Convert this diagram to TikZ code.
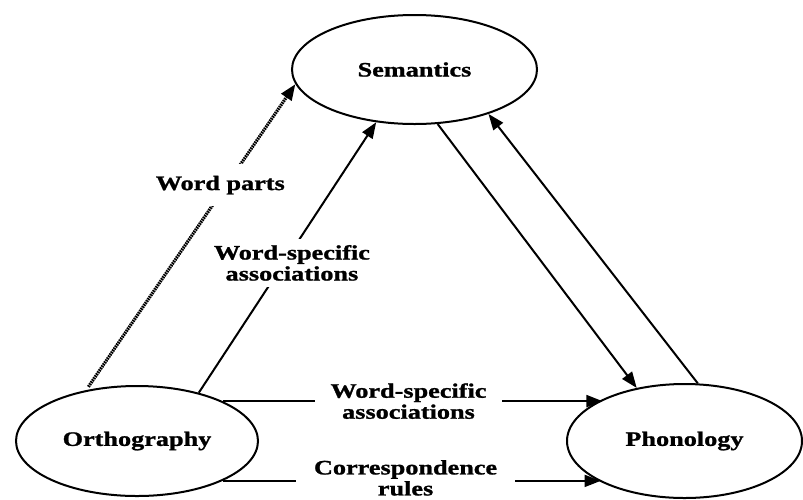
\documentclass[tikz,border=0pt]{standalone}
\usepackage{fontspec}
\newfontfamily\lblfont[FakeStretch=1.28,FakeBold=1.2]{Liberation Serif}
\usetikzlibrary{arrows.meta,shapes.geometric}

\tikzset{
  txt/.style={font=\lblfont\bfseries\fontsize{20.5}{21}\selectfont},
  state/.style={txt, draw, ellipse, line width=2pt, inner sep=0pt},
  link/.style={line width=2pt, -{Triangle[length=16pt,width=12pt]}},
  partlink/.style={link, line width=3.2pt, dash pattern=on 1.6pt off 0.8pt},
  tag/.style={txt, fill=white, align=center, inner xsep=2pt, inner ysep=4pt}
}

\begin{document}
\begin{tikzpicture}[x=1pt,y=1pt]
  \useasboundingbox (0,0) rectangle (803,-499);

  % the three representations
  \node[state, minimum width=245pt, minimum height=109pt] (sem)  at (414.5,-69.5) {Semantics};
  \node[state, minimum width=242pt, minimum height=110pt] (orth) at (137,-441)    {Orthography};
  \node[state, minimum width=235pt, minimum height=114pt] (phon) at (684.5,-441)  {Phonology};

  % orthography to semantics
  \draw[partlink, shorten <=4pt] (orth.135.5)
    -- node[tag, pos=0.67, xshift=-6pt, inner ysep=12pt] {Word parts} (sem.187.3);
  \draw[link] (orth.38.3)
    -- node[tag, pos=0.48, xshift=8pt, inner ysep=6pt] {Word-specific\\associations} (sem.234.6);

  % semantics and phonology, both ways
  \draw[link] (sem.293.7) -- (phon.132.6);
  \draw[link] (phon.77.4) -- (sem.329.6);

  % orthography to phonology
  \draw[link] (orth.25.5)
    -- node[tag, xshift=-4pt, inner xsep=16pt] {Word-specific\\associations} (orth.25.5 -| phon.153.4);
  \draw[link] (orth.-25.5)
    -- node[tag, xshift=-6pt, yshift=3pt, inner xsep=18pt] {Correspondence\\rules} (orth.-25.5 -| phon.206.6);
\end{tikzpicture}
\end{document}
